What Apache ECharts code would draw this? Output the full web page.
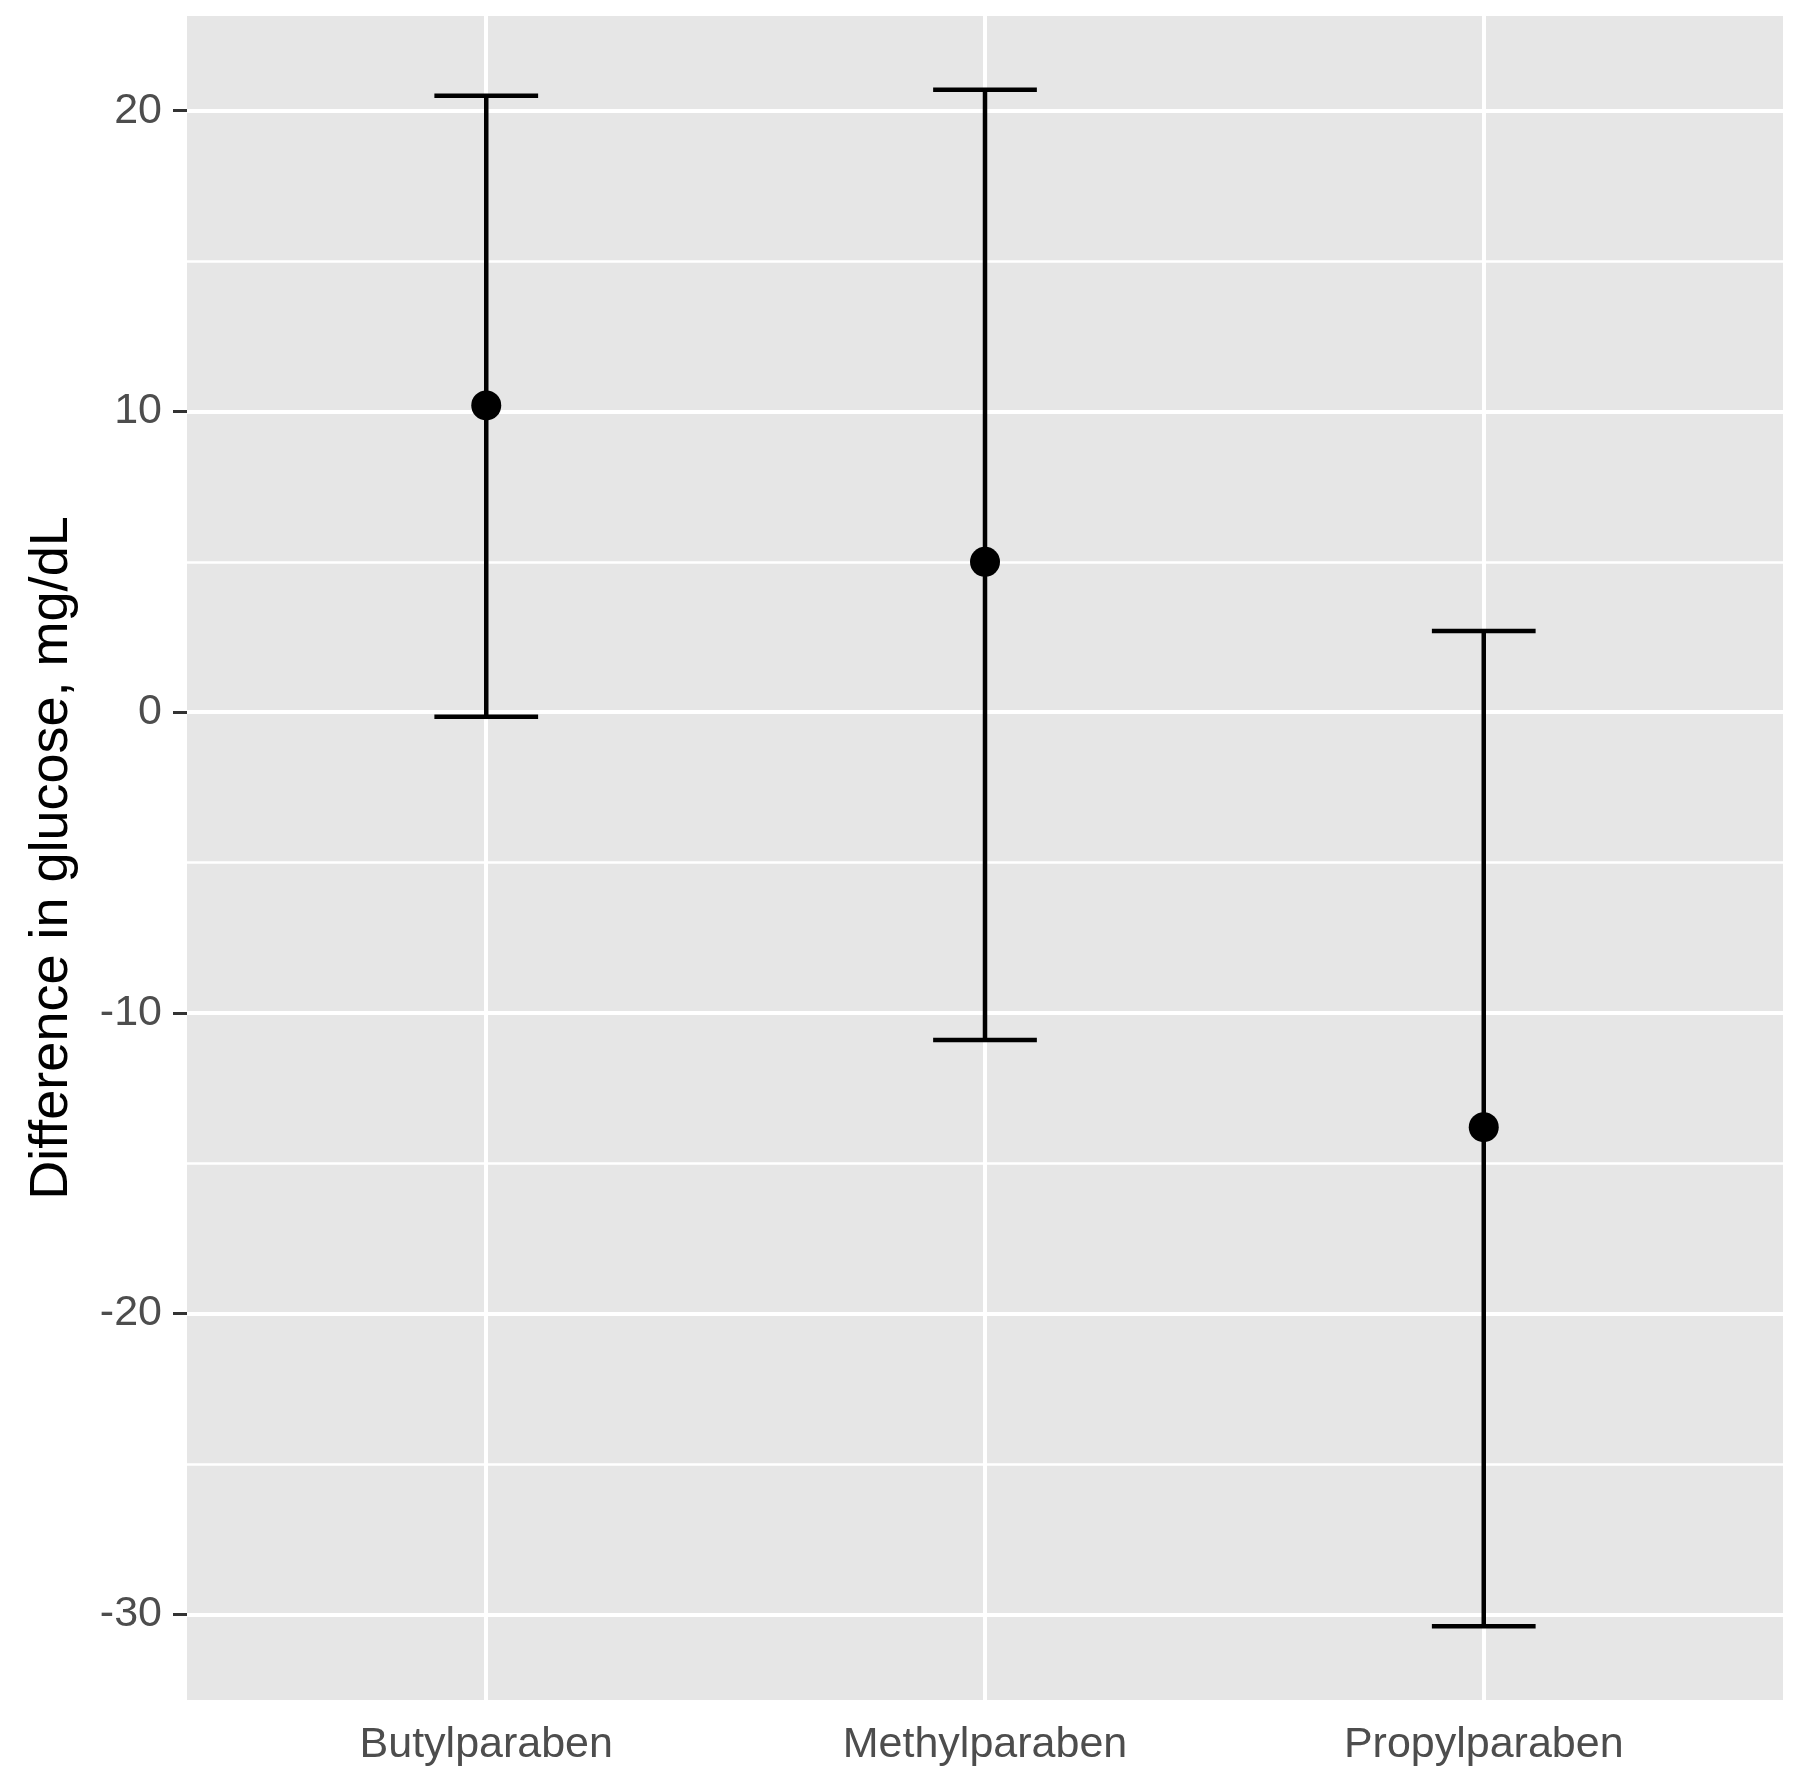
<!DOCTYPE html>
<html>
<head>
<meta charset="utf-8">
<script src="https://cdn.jsdelivr.net/npm/echarts@6/dist/echarts.min.js"></script>
<style>
html,body{margin:0;padding:0;background:#fff;}
#chart{width:1800px;height:1792px;}
</style>
</head>
<body>
<div id="chart"></div>
<script>
// ---- data ----
const categories = ['Butylparaben', 'Methylparaben', 'Propylparaben'];
const estimate = [10.2, 5.0, -13.8];
const lower = [-0.15, -10.9, -30.4];
const upper = [20.5, 20.7, 2.7];
const yTicks = [-30, -20, -10, 0, 10, 20];
const yMinor = [-25, -15, -5, 5, 15];
const xPositions = [1, 2, 3];

const font = 'Liberation Sans, Arial, sans-serif';
const chart = echarts.init(document.getElementById('chart'), null, {renderer: 'canvas'});

const errData = categories.map((c, i) => [xPositions[i], lower[i], upper[i]]);
const ptData = categories.map((c, i) => [xPositions[i], estimate[i]]);

const gridLines = [];
yMinor.forEach(v => gridLines.push({yAxis: v, lineStyle: {width: 2.5}}));
yTicks.forEach(v => gridLines.push({yAxis: v, lineStyle: {width: 4}}));
xPositions.forEach(v => gridLines.push({xAxis: v, lineStyle: {width: 4}}));

const option = {
  backgroundColor: '#ffffff',
  animation: false,
  grid: {
    left: 187, right: 17, top: 16, bottom: 92,
    show: true, backgroundColor: '#e6e6e6', borderWidth: 0
  },
  xAxis: {
    type: 'value', min: 0.4, max: 3.6,
    axisLine: {show: false},
    splitLine: {show: false},
    axisTick: {show: true, customValues: xPositions, length: 13, lineStyle: {color: '#333333', width: 3}},
    axisLabel: {
      customValues: xPositions,
      formatter: v => categories[Math.round(v) - 1] || '',
      color: '#4d4d4d', fontSize: 43, fontFamily: font, margin: 24
    }
  },
  yAxis: {
    type: 'value', min: -32.85, max: 23.15,
    name: 'Difference in glucose, mg/dL',
    nameLocation: 'middle', nameRotate: 90, nameGap: 108,
    nameTextStyle: {color: '#000000', fontSize: 54, fontFamily: font},
    axisLine: {show: false},
    splitLine: {show: false},
    axisTick: {show: true, customValues: yTicks, length: 14, lineStyle: {color: '#333333', width: 3}},
    axisLabel: {
      customValues: yTicks,
      color: '#4d4d4d', fontSize: 43, fontFamily: font, margin: 25
    }
  },
  series: [
    {
      type: 'line', data: [], z: 1, silent: true,
      markLine: {
        silent: true, symbol: ['none', 'none'], label: {show: false},
        lineStyle: {color: '#ffffff', type: 'solid'},
        emphasis: {disabled: true},
        data: gridLines
      }
    },
    {
      type: 'custom', z: 5, silent: true,
      data: errData,
      renderItem: function (params, api) {
        const x = api.value(0);
        const lo = api.coord([x, api.value(1)]);
        const hi = api.coord([x, api.value(2)]);
        const half = api.size([0.104, 0])[0];
        const st = {stroke: '#000000', lineWidth: 4.5, fill: null};
        return {
          type: 'group',
          children: [
            {type: 'line', shape: {x1: lo[0], y1: lo[1], x2: hi[0], y2: hi[1]}, style: st},
            {type: 'line', shape: {x1: hi[0] - half, y1: hi[1], x2: hi[0] + half, y2: hi[1]}, style: st},
            {type: 'line', shape: {x1: lo[0] - half, y1: lo[1], x2: lo[0] + half, y2: lo[1]}, style: st}
          ]
        };
      }
    },
    {
      type: 'scatter', z: 6, silent: true,
      data: ptData,
      symbol: 'circle', symbolSize: 30,
      itemStyle: {color: '#000000', opacity: 1}
    }
  ]
};
chart.setOption(option);
</script>
</body>
</html>
